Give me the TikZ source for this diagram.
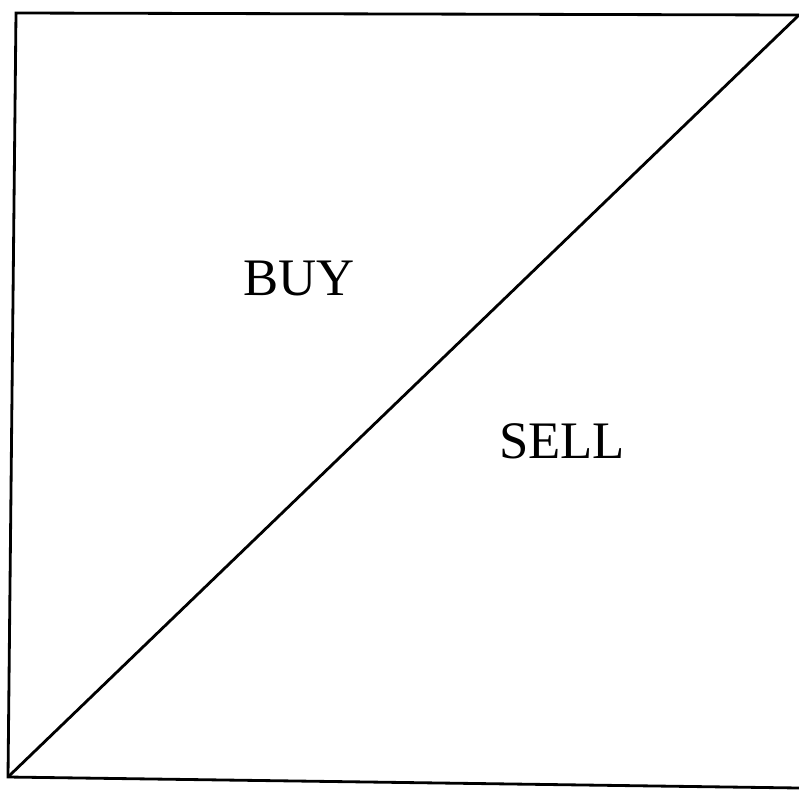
\documentclass[tikz,border=0pt]{standalone}
\usepackage{fontspec}
\setmainfont{Liberation Serif}
\usepackage{tikz}
\usetikzlibrary{positioning}

\begin{document}
\begin{tikzpicture}[x=0.02cm, y=-0.02cm,
  kenar/.style={line width=1.6pt, black},
  etiket/.style={font=\fontsize{30}{34}\selectfont, inner sep=0pt}]
\useasboundingbox (0,0) rectangle (799,789);
\coordinate (sol ust) at (16,13);
\coordinate (sag ust) at (799,15);
\coordinate (sol alt) at (8,777);
\coordinate (sag alt) at (799,788);
\draw[kenar] (sag ust) -- (sol ust) -- (sol alt) -- (sag alt);
\draw[kenar] (sol alt) -- (sag ust);
\node[etiket] (al) at (299,278) {BUY};
\node[etiket] (sat) at (562,441) {SELL};
\end{tikzpicture}
\end{document}
